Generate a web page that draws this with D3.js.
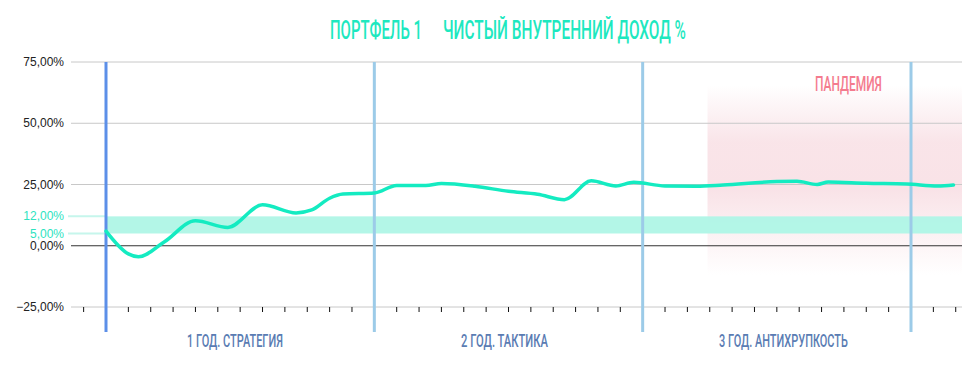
<!DOCTYPE html>
<html>
<head>
<meta charset="utf-8">
<script src="https://cdn.jsdelivr.net/npm/d3@7"></script>
<style>
  body { margin: 0; background: #fff; }
  svg { display: block; }
</style>
</head>
<body>
<svg id="chart" width="962" height="371"></svg>
<script>
// values (month index from start, % value)
const months = [0, 1, 1.45, 2.6, 4, 5.45, 7, 8.5, 9.2, 10, 10.6, 12, 13, 14.3, 15, 16.5, 18, 19.3, 20.5, 21.7, 22.8, 23.6, 25, 26.4, 27.6, 30, 30.9, 31.8, 32.3, 34, 35.8, 37.2, 37.9];
const returns = [6.0, -3.3, -4.5, 1.5, 10.2, 7.5, 16.7, 13.4, 14.6, 19.4, 21.1, 21.5, 24.6, 24.6, 25.4, 24.3, 22.2, 21.0, 18.8, 26.5, 24.4, 25.9, 24.4, 24.3, 24.8, 26.2, 26.3, 25.0, 26.0, 25.5, 25.2, 24.4, 24.8];
const yTicks = [-25, 0, 25, 50, 75];
const targetBand = [5, 12];
const yearMarks = [0, 12, 24, 36];
const yearLabels = ["1 ГОД. СТРАТЕГИЯ", "2 ГОД. ТАКТИКА", "3 ГОД. АНТИХРУПКОСТЬ"];
const pandemicFrom = 26.9;
const titleParts = ["ПОРТФЕЛЬ 1", "ЧИСТЫЙ ВНУТРЕННИЙ ДОХОД %"];

const svg = d3.select("#chart");
const left = 71, right = 962;

const x = d3.scaleLinear().domain([0, 36]).range([106, 911]);
const y = d3.scaleLinear().domain([-25, 75]).range([307, 62]);
const fmt = v => d3.format(".2f")(v).replace(".", ",") + "%";
const cond = "Roboto, 'DejaVu Sans', sans-serif";

// squeeze a text horizontally so it spans [x0, x0+w]
function fitText(txt, x0, base, w, size, color) {
    const t = svg.append("text").text(txt)
        .attr("x", 0).attr("y", 0)
        .style("font-family", cond).style("font-size", size + "px")
        .style("font-weight", 500)
        .attr("fill", color);
    const nat = t.node().getComputedTextLength();
    t.attr("transform", `translate(${x0},${base}) scale(${w / nat},1)`);
    return t;
}

// gradient for pandemic zone
const defs = svg.append("defs");
const g1 = defs.append("linearGradient").attr("id", "pand").attr("x1", 0).attr("x2", 0).attr("y1", 0).attr("y2", 1);
g1.append("stop").attr("offset", "0%").attr("stop-color", "#f7d9df").attr("stop-opacity", 0);
g1.append("stop").attr("offset", "30%").attr("stop-color", "#f7d9df").attr("stop-opacity", 0.7);
g1.append("stop").attr("offset", "55%").attr("stop-color", "#f7d9df").attr("stop-opacity", 0.75);
g1.append("stop").attr("offset", "100%").attr("stop-color", "#f7d9df").attr("stop-opacity", 0);

// title
fitText(titleParts[0], 330, 39, 92, 26, "#1ee8bf");
fitText(titleParts[1], 443, 39, 243, 26, "#1ee8bf");

// pandemic zone
svg.append("rect")
    .attr("x", x(pandemicFrom)).attr("y", 85)
    .attr("width", right - x(pandemicFrom)).attr("height", 190)
    .attr("fill", "url(#pand)");
fitText("ПАНДЕМИЯ", 815, 91, 67, 20, "#f47b8e");

// grid
svg.append("g").selectAll("line")
    .data(yTicks)
    .join("line")
    .attr("x1", left).attr("x2", right)
    .attr("y1", d => y(d)).attr("y2", d => y(d))
    .attr("stroke", d => d == 0 ? "#333" : "#c8c8c8")
    .attr("stroke-width", 1);

svg.append("g").selectAll("text")
    .data(yTicks)
    .join("text")
    .attr("x", 64).attr("y", d => y(d) + 4)
    .attr("text-anchor", "end")
    .style("font-family", "'Liberation Sans', Arial, sans-serif").style("font-size", "12px")
    .attr("fill", "#222")
    .text(fmt);

// target band 5..12
svg.append("rect")
    .attr("x", x(0)).attr("width", right - x(0))
    .attr("y", y(targetBand[1])).attr("height", y(targetBand[0]) - y(targetBand[1]))
    .attr("fill", "#aff5e6").attr("opacity", 0.95);
svg.append("g").selectAll("line")
    .data(targetBand)
    .join("line")
    .attr("x1", 68).attr("x2", x(0))
    .attr("y1", d => y(d)).attr("y2", d => y(d))
    .attr("stroke", "#c6f6ec").attr("stroke-width", 2);
svg.append("g").selectAll("text")
    .data(targetBand)
    .join("text")
    .attr("x", 64).attr("y", d => y(d) + 4)
    .attr("text-anchor", "end")
    .style("font-family", "'Liberation Sans', Arial, sans-serif").style("font-size", "12px")
    .attr("fill", "#2ee3bf")
    .text(fmt);

// x axis ticks (monthly)
svg.append("g").selectAll("line")
    .data(d3.range(-1, 39))
    .join("line")
    .attr("x1", d => x(d)).attr("x2", d => x(d))
    .attr("y1", y(-25)).attr("y2", y(-25) + 5)
    .attr("stroke", "#111");

// year separators
svg.append("g").selectAll("line")
    .data(yearMarks)
    .join("line")
    .attr("x1", d => x(d)).attr("x2", d => x(d))
    .attr("y1", y(75)).attr("y2", 332)
    .attr("stroke", (d, i) => i == 0 ? "#5c8fe8" : "#9ccbe8")
    .attr("stroke-width", 3);

// year labels, start and width
const labelX = [187, 461, 719];
const labelW = [96, 87, 129];
yearLabels.forEach((lab, i) => {
    fitText(lab, labelX[i], 347, labelW[i], 19, "#5a7cb3");
});

// return line
const pts = months.map((m, i) => [m, returns[i]]);
svg.append("path")
    .datum(pts)
    .attr("fill", "none")
    .attr("stroke", "#14ebc1")
    .attr("stroke-width", 3.5)
    .attr("stroke-linecap", "round")
    .attr("d", d3.line().x(d => x(d[0])).y(d => y(d[1])).curve(d3.curveMonotoneX));
</script>
</body>
</html>
